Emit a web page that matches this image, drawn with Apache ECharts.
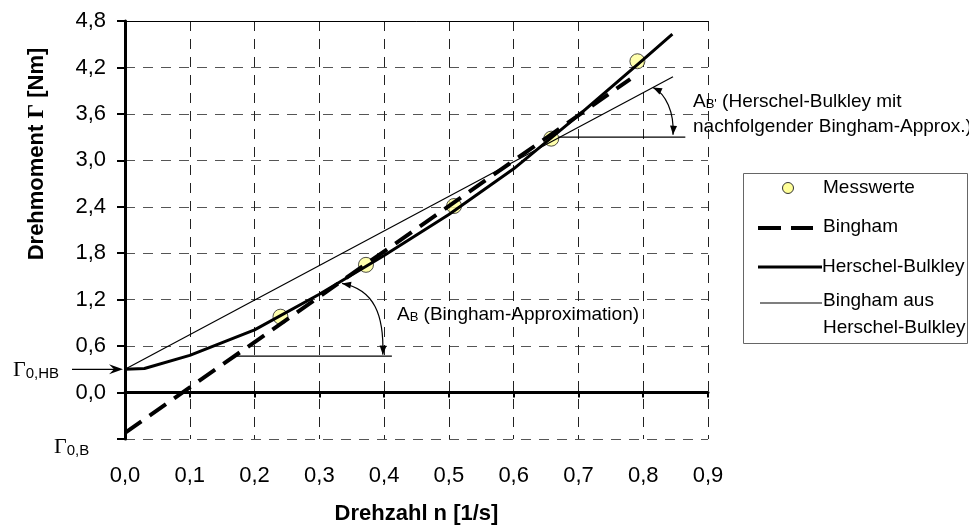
<!DOCTYPE html>
<html>
<head>
<meta charset="utf-8">
<title>Drehmoment über Drehzahl</title>
<script src="https://cdn.jsdelivr.net/npm/echarts@6/dist/echarts.min.js"></script>
<style>
    html, body { margin: 0; padding: 0; background: #fff; }
    #chart { width: 969px; height: 529px; }
</style>
</head>
<body>
<div id="chart"></div>
<script>
    // Messwerte
    var messN = [0.240, 0.372, 0.508, 0.658, 0.791];
    var messM = [0.98, 1.65, 2.41, 3.28, 4.28];
    // Bingham (gestrichelt)
    var binghamN = [0.0, 0.78];
    var binghamM = [-0.52, 4.05];
    // Herschel-Bulkley
    var hbN = [0.0, 0.03, 0.1, 0.2, 0.3, 0.4, 0.5, 0.6, 0.7, 0.8, 0.845];
    var hbM = [0.30, 0.31, 0.48, 0.81, 1.27, 1.77, 2.30, 2.89, 3.58, 4.30, 4.63];
    // Bingham aus Herschel-Bulkley
    var bhbN = [0.0, 0.846];
    var bhbM = [0.30, 4.08];
    // Hilfslinien fuer die Winkel A_B und A_B'
    var refAbN = [0.172, 0.412];
    var refAbM = [0.47, 0.47];
    var refAb2N = [0.67, 0.865];
    var refAb2M = [3.30, 3.30];
    // Achsen
    var xMin = 0, xMax = 0.9, xStep = 0.1;
    var yMin = -0.6, yMax = 4.8, yStep = 0.6;

    var FONT = '"Liberation Sans", Arial, sans-serif';
    var SERIF = '"Liberation Serif", "Times New Roman", serif';

    function pairs(xs, ys) {
        return xs.map(function (x, i) { return [x, ys[i]]; });
    }
    function komma(v) {
        return v.toFixed(1).replace('.', ',');
    }

    var chart = echarts.init(document.getElementById('chart'), null, {renderer: 'canvas'});

    var option = {
        animation: false,
        backgroundColor: '#fff',
        grid: {left: 125, right: 261, top: 21, bottom: 90, containLabel: false, outerBoundsMode: 'none'},
        xAxis: [
            {   // Beschriftung unten + senkrechte Gitterlinien
                type: 'value', min: xMin, max: xMax, interval: xStep, position: 'bottom',
                axisLine: {show: false, onZero: false},
                axisTick: {show: false},
                axisLabel: {margin: 26, fontSize: 22, color: '#000', fontFamily: FONT, formatter: komma},
                splitLine: {show: true, lineStyle: {color: '#222', width: 1, type: [10, 8]}},
                name: 'Drehzahl n [1/s]', nameLocation: 'middle', nameGap: 64,
                nameTextStyle: {fontSize: 22, fontWeight: 'bold', color: '#000', fontFamily: FONT}
            },
            {   // Nulllinie
                type: 'value', min: xMin, max: xMax, interval: xStep, position: 'bottom',
                axisLine: {show: true, onZero: true, lineStyle: {color: '#000', width: 3}},
                axisTick: {show: true, length: 5, lineStyle: {color: '#000', width: 2}},
                axisLabel: {show: false},
                splitLine: {show: false}
            },
            {   // oberer Rand
                type: 'value', min: xMin, max: xMax, interval: xStep, position: 'top',
                axisLine: {show: true, onZero: false, lineStyle: {color: '#000', width: 1}},
                axisTick: {show: false},
                axisLabel: {show: false},
                splitLine: {show: false}
            }
        ],
        yAxis: {
            type: 'value', min: yMin, max: yMax, interval: yStep,
            axisLine: {show: true, onZero: false, lineStyle: {color: '#000', width: 3}},
            axisTick: {show: true, length: 8, lineStyle: {color: '#000', width: 2}},
            axisLabel: {
                margin: 19, fontSize: 22, color: '#000', fontFamily: FONT,
                formatter: function (v) { return v < -0.01 ? '' : komma(v); }
            },
            splitLine: {show: true, lineStyle: {color: '#555', width: 1, type: [10, 8]}}
        },
        series: [
            {
                name: 'Herschel-Bulkley', type: 'line', data: pairs(hbN, hbM),
                symbol: 'none', silent: true,
                lineStyle: {color: '#000', width: 3}
            },
            {
                name: 'Messwerte', type: 'scatter', data: pairs(messN, messM),
                symbol: 'circle', symbolSize: 15, silent: true,
                itemStyle: {color: '#ffff99', borderColor: '#222', borderWidth: 1}
            },
            {
                name: 'Bingham', type: 'line', data: pairs(binghamN, binghamM),
                symbol: 'none', silent: true,
                lineStyle: {color: '#000', width: 4, type: [20, 10]}
            },
            {
                name: 'Bingham aus Herschel-Bulkley', type: 'line', data: pairs(bhbN, bhbM),
                symbol: 'none', silent: true,
                lineStyle: {color: '#000', width: 1.2}
            },
            {
                name: 'Hilfslinie A_B', type: 'line', data: pairs(refAbN, refAbM),
                symbol: 'none', silent: true,
                lineStyle: {color: '#000', width: 1.3}
            },
            {
                name: 'Hilfslinie A_B2', type: 'line', data: pairs(refAb2N, refAb2M),
                symbol: 'none', silent: true,
                lineStyle: {color: '#000', width: 1.3}
            }
        ]
    };
    chart.setOption(option);

    // --- Anmerkungen (Pfeile, Texte, Legende) ---
    function px(n, m) {
        return chart.convertToPixel({xAxisIndex: 0, yAxisIndex: 0}, [n, m]);
    }
    function arrowHead(tip, from, len, half) {
        var dx = tip[0] - from[0], dy = tip[1] - from[1];
        var d = Math.sqrt(dx * dx + dy * dy) || 1;
        dx /= d; dy /= d;
        var bx = tip[0] - dx * len, by = tip[1] - dy * len;
        return {
            type: 'polygon', z: 20,
            shape: {points: [tip, [bx - dy * half, by + dx * half], [bx + dy * half, by - dx * half]]},
            style: {fill: '#000'}
        };
    }
    function curvedArrow(s, c1, c2, e) {
        var p0 = px(s[0], s[1]), p1 = px(c1[0], c1[1]), p2 = px(c2[0], c2[1]), p3 = px(e[0], e[1]);
        return [
            {
                type: 'bezierCurve', z: 20,
                shape: {x1: p0[0], y1: p0[1], cpx1: p1[0], cpy1: p1[1], cpx2: p2[0], cpy2: p2[1], x2: p3[0], y2: p3[1]},
                style: {stroke: '#000', lineWidth: 1.2, fill: 'none'}
            },
            arrowHead(p0, p1, 9, 3.5),
            arrowHead(p3, p2, 9, 3.5)
        ];
    }

    var g = [];
    // y-Achsentitel
    g.push({
        type: 'text', x: 37, y: 154, rotation: Math.PI / 2, z: 20,
        style: {
            text: '{b|Drehmoment }{g|Γ}{b| [Nm]}',
            align: 'center', verticalAlign: 'middle',
            rich: {
                b: {fontSize: 22, fontWeight: 'bold', fontFamily: FONT, fill: '#000'},
                g: {fontSize: 23, fontWeight: 'bold', fontFamily: SERIF, fill: '#000'}
            }
        }
    });

    // Gamma_0,HB mit Pfeil
    var hb0 = px(0, hbM[0]);
    g.push({
        type: 'line', z: 20,
        shape: {x1: 72, y1: hb0[1], x2: hb0[0] - 6, y2: hb0[1]},
        style: {stroke: '#000', lineWidth: 1.3}
    });
    g.push({
        type: 'polygon', z: 20,
        shape: {points: [[hb0[0] - 2, hb0[1]], [hb0[0] - 16, hb0[1] - 5], [hb0[0] - 11, hb0[1]], [hb0[0] - 16, hb0[1] + 5]]},
        style: {fill: '#000'}
    });
    var gammaRich = {
        g: {fontSize: 22, fontFamily: SERIF, fill: '#000', verticalAlign: 'bottom', lineHeight: 24},
        s: {fontSize: 15, fontFamily: FONT, fill: '#000', verticalAlign: 'bottom', lineHeight: 20}
    };
    g.push({
        type: 'text', x: 13, y: hb0[1], z: 20,
        style: {text: '{g|Γ}{s|0,HB}', align: 'left', verticalAlign: 'middle', rich: gammaRich}
    });
    var b0 = px(0, yMin);
    g.push({
        type: 'text', x: 54, y: b0[1] + 7, z: 20,
        style: {text: '{g|Γ}{s|0,B}', align: 'left', verticalAlign: 'middle', rich: gammaRich}
    });

    // Winkel A_B
    g = g.concat(curvedArrow([0.335, 1.41], [0.385, 1.33], [0.400, 1.00], [0.398, 0.49]));
    var annRich = {
        a: {fontSize: 19, fontFamily: FONT, fill: '#000', verticalAlign: 'bottom', lineHeight: 22},
        b: {fontSize: 13, fontFamily: FONT, fill: '#000', verticalAlign: 'bottom', lineHeight: 18},
        c: {fontSize: 19, fontFamily: FONT, fill: '#000', verticalAlign: 'bottom', lineHeight: 22}
    };
    g.push({
        type: 'text', x: 397, y: 313, z: 20,
        style: {text: '{a|A}{b|B}{c| (Bingham-Approximation)}', align: 'left', verticalAlign: 'middle', rich: annRich}
    });

    // Winkel A_B'
    g = g.concat(curvedArrow([0.815, 3.94], [0.835, 3.86], [0.848, 3.62], [0.846, 3.33]));
    g.push({
        type: 'text', x: 693, y: 100, z: 20,
        style: {text: '{a|A}{b|B\'}{c| (Herschel-Bulkley mit}', align: 'left', verticalAlign: 'middle', rich: annRich}
    });
    g.push({
        type: 'text', x: 693, y: 127, z: 20,
        style: {text: 'nachfolgender Bingham-Approx.)', align: 'left', verticalAlign: 'middle',
            fontSize: 19, fontFamily: FONT, fill: '#000'}
    });

    // Legende
    var legText = {fontSize: 19, fontFamily: FONT, fill: '#000', align: 'left', verticalAlign: 'middle'};
    g.push({
        type: 'rect', z: 20,
        shape: {x: 743.5, y: 173.5, width: 224, height: 170},
        style: {fill: '#fff', stroke: '#666', lineWidth: 1}
    });
    g.push({type: 'circle', z: 21, shape: {cx: 788, cy: 188, r: 5.5},
        style: {fill: '#ffff99', stroke: '#333', lineWidth: 1}});
    g.push({type: 'text', z: 21, x: 823, y: 188, style: Object.assign({text: 'Messwerte'}, legText)});
    g.push({type: 'line', z: 21, shape: {x1: 758, y1: 228, x2: 813, y2: 228},
        style: {stroke: '#000', lineWidth: 4, lineDash: [23, 10]}});
    g.push({type: 'text', z: 21, x: 823, y: 227, style: Object.assign({text: 'Bingham'}, legText)});
    g.push({type: 'line', z: 21, shape: {x1: 758, y1: 267, x2: 822, y2: 267},
        style: {stroke: '#000', lineWidth: 3}});
    g.push({type: 'text', z: 21, x: 822, y: 267, style: Object.assign({text: 'Herschel-Bulkley'}, legText)});
    g.push({type: 'line', z: 21, shape: {x1: 760, y1: 303, x2: 822, y2: 303},
        style: {stroke: '#000', lineWidth: 1.2}});
    g.push({type: 'text', z: 21, x: 823, y: 314,
        style: Object.assign({text: 'Bingham aus\nHerschel-Bulkley', lineHeight: 27}, legText)});

    chart.setOption({graphic: g});
</script>
</body>
</html>
